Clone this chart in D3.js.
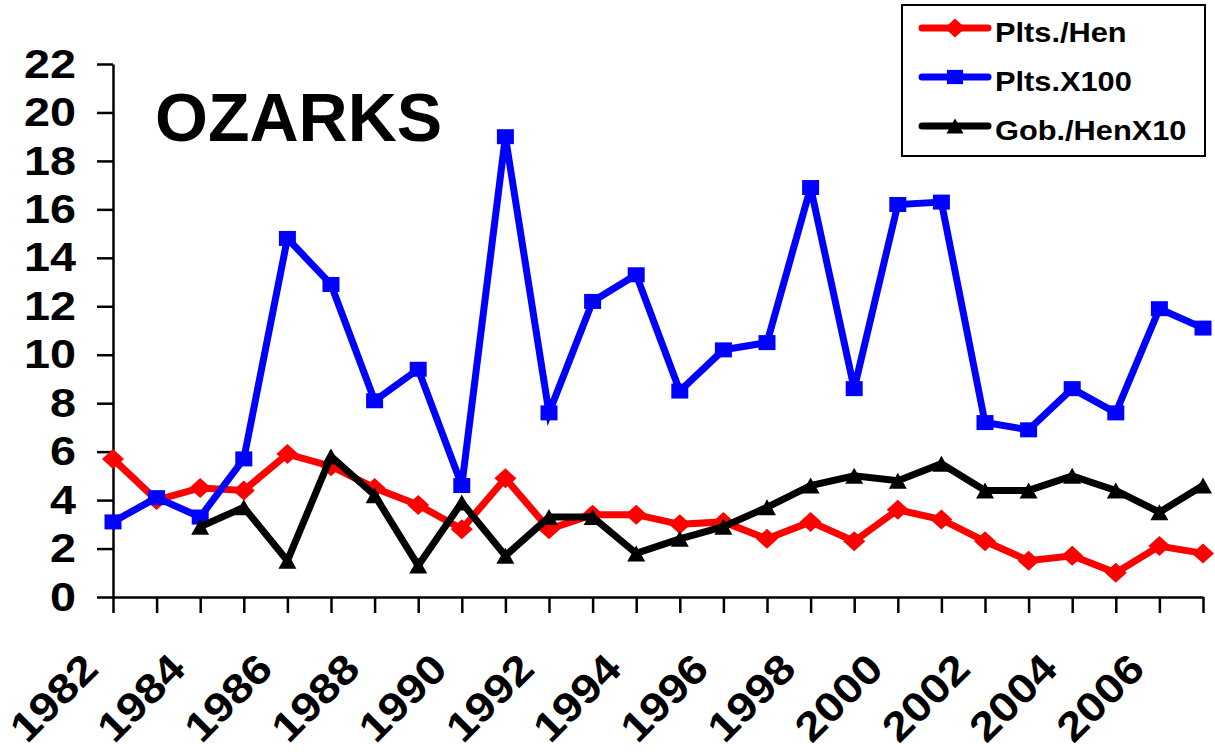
<!DOCTYPE html>
<html>
<head>
<meta charset="utf-8">
<script src="https://cdn.jsdelivr.net/npm/d3@7"></script>
<style>
  body { margin: 0; background: #fff; }
  text { font-family: "Liberation Sans", Arial, sans-serif; font-weight: bold; }
</style>
</head>
<body>
<script>
const WIDTH = 1215;
const HEIGHT = 755;
const STRETCH = 1.14;

var years = [1982, 1983, 1984, 1985, 1986, 1987, 1988, 1989, 1990, 1991, 1992, 1993, 1994,
  1995, 1996, 1997, 1998, 1999, 2000, 2001, 2002, 2003, 2004, 2005, 2006, 2007];
var yearLabels = [1982, 1984, 1986, 1988, 1990, 1992, 1994, 1996, 1998, 2000, 2002, 2004, 2006];
var yTicks = [0, 2, 4, 6, 8, 10, 12, 14, 16, 18, 20, 22];

var pltsHen = [5.7, 4.0, 4.5, 4.4, 5.9, 5.4, 4.5, 3.8, 2.8, 4.9, 2.8, 3.4, 3.4,
  3.0, 3.1, 2.4, 3.1, 2.3, 3.6, 3.2, 2.3, 1.5, 1.7, 1.0, 2.1, 1.8];
var pltsX100 = [3.1, 4.1, 3.3, 5.7, 14.8, 12.9, 8.1, 9.4, 4.6, 19.0, 7.6, 12.2, 13.3,
  8.5, 10.2, 10.5, 16.9, 8.6, 16.2, 16.3, 7.2, 6.9, 8.6, 7.6, 11.9, 11.1];
var gobHenX10 = [null, null, 2.9, 3.7, 1.5, 5.8, 4.2, 1.3, 3.9, 1.7, 3.3, 3.3, 1.8,
  2.4, 2.9, 3.7, 4.6, 5.0, 4.8, 5.5, 4.4, 4.4, 5.0, 4.4, 3.5, 4.6];

var seriesNames = ["Plts./Hen", "Plts.X100", "Gob./HenX10"];
var seriesColors = ["#ff0000", "#0000ff", "#000000"];
var seriesMarkers = ["diamond", "square", "triangle"];
var seriesValues = [pltsHen, pltsX100, gobHenX10];

var xScale = d3.scaleLinear().domain([1982, 2007]).range([113, 1203]);
var yScale = d3.scaleLinear().domain([0, 22]).range([597, 64]);

var translate = function(x, y) {
  return "translate(" + x + "," + y + ")";
};

var svg = d3.select("body").append("svg")
  .attr("width", WIDTH)
  .attr("height", HEIGHT);

// marker shapes, a bit wider than tall like the original
var markerPath = function(kind, s) {
  if (kind === "diamond") {
    var w = 11 * s, h = 10 * s;
    return "M0," + (-h) + "L" + w + ",0L0," + h + "L" + (-w) + ",0Z";
  }
  if (kind === "square") {
    var w2 = 8.5 * s, h2 = 7.5 * s;
    return "M" + (-w2) + "," + (-h2) + "H" + w2 + "V" + h2 + "H" + (-w2) + "Z";
  }
  var w3 = 9 * s, h3 = 8 * s;
  return "M0," + (-h3) + "L" + w3 + "," + h3 + "L" + (-w3) + "," + h3 + "Z";
};

// axes
var yAxis = d3.axisLeft(yScale).tickValues(yTicks).tickSize(16).tickPadding(21).tickSizeOuter(0);
var xAxis = d3.axisBottom(xScale).tickValues(years).tickSize(16).tickSizeOuter(0)
  .tickFormat(function(d) { return yearLabels.indexOf(d) >= 0 ? d : ""; });

var gy = svg.append("g").attr("transform", translate(113, 0)).call(yAxis);
gy.select(".domain").attr("stroke", "#000").attr("stroke-width", 2.5);
gy.selectAll(".tick line").attr("stroke", "#000").attr("stroke-width", 2.5);
gy.selectAll(".tick text")
  .attr("fill", "#000")
  .style("font-size", "41px")
  .attr("x", -37 / STRETCH)
  .attr("transform", "scale(" + STRETCH + ",1)");

var gx = svg.append("g").attr("transform", translate(0, 597)).call(xAxis);
gx.select(".domain").attr("stroke", "#000").attr("stroke-width", 2.5);
gx.selectAll(".tick line").attr("stroke", "#000").attr("stroke-width", 2.5);
gx.selectAll(".tick text")
  .attr("fill", "#000")
  .style("font-size", "41px")
  .attr("text-anchor", "end")
  .attr("x", 0).attr("y", 0).attr("dy", 0)
  .attr("transform", translate(-13, 74) + " rotate(-45) scale(" + STRETCH + ",1)");

// series
var line = d3.line()
  .defined(function(d) { return d.v !== null; })
  .x(function(d) { return xScale(d.year); })
  .y(function(d) { return yScale(d.v); });

seriesValues.forEach(function(vals, i) {
  var data = years.map(function(y, j) { return { year: y, v: vals[j] }; });
  var g = svg.append("g").classed("series-" + i, true);
  g.append("path")
    .attr("d", line(data))
    .attr("fill", "none")
    .attr("stroke", seriesColors[i])
    .attr("stroke-width", 7)
    .attr("stroke-linejoin", "miter");
  g.selectAll("path.marker")
    .data(data.filter(function(d) { return d.v !== null; }))
    .enter()
    .append("path")
    .classed("marker", true)
    .attr("transform", function(d) { return translate(xScale(d.year), yScale(d.v)); })
    .attr("d", markerPath(seriesMarkers[i], 1))
    .attr("fill", seriesColors[i]);
});

// title
svg.append("text")
  .attr("x", 155)
  .attr("y", 141)
  .style("font-size", "68px")
  .attr("fill", "#000")
  .text("OZARKS");

// legend
var legend = svg.append("g");
legend.append("rect")
  .attr("x", 902).attr("y", 5)
  .attr("width", 303).attr("height", 151)
  .attr("fill", "#fff")
  .attr("stroke", "#000")
  .attr("stroke-width", 2);

seriesNames.forEach(function(name, i) {
  var ly = 28 + i * 49;
  legend.append("line")
    .attr("x1", 922).attr("x2", 988)
    .attr("y1", ly).attr("y2", ly)
    .attr("stroke", seriesColors[i])
    .attr("stroke-width", 7)
    .attr("stroke-linecap", "round");
  legend.append("path")
    .attr("transform", translate(955, ly))
    .attr("d", markerPath(seriesMarkers[i], 0.95))
    .attr("fill", seriesColors[i]);
  legend.append("text")
    .attr("x", 995 / STRETCH)
    .attr("y", ly + 14)
    .attr("transform", "scale(" + STRETCH + ",1)")
    .style("font-size", "27px")
    .attr("fill", "#000")
    .text(name);
});
</script>
</body>
</html>
